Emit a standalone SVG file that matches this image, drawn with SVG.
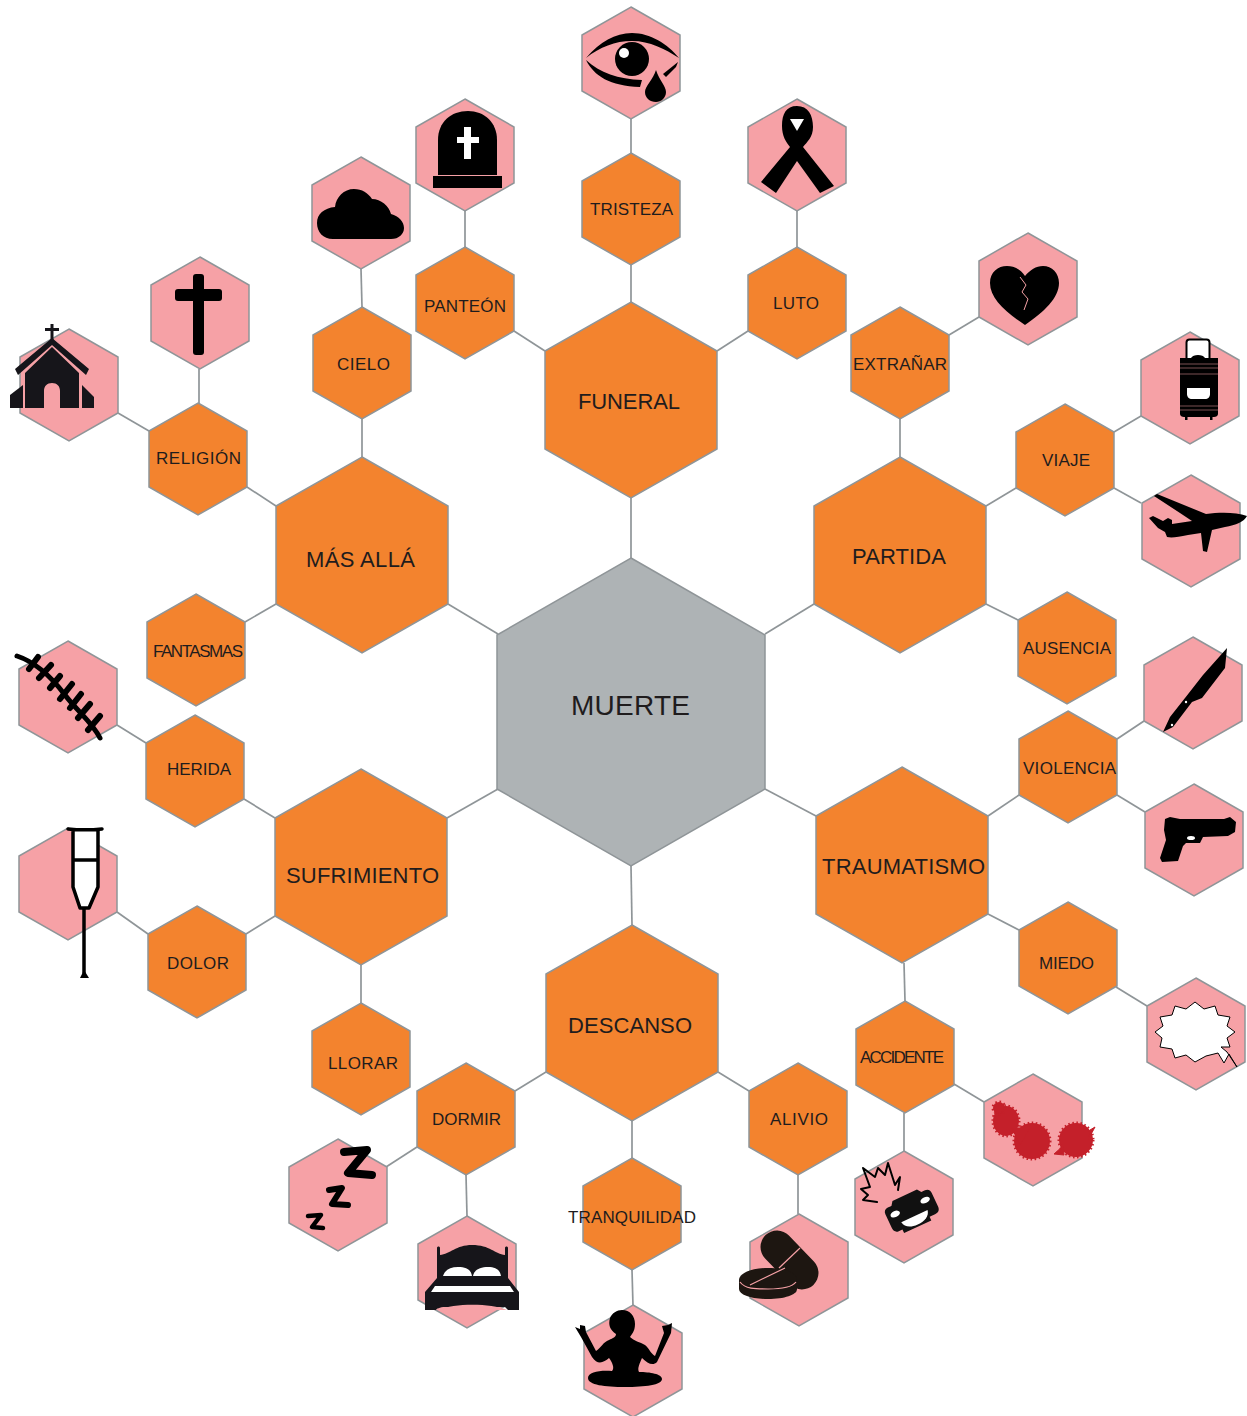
<svg xmlns="http://www.w3.org/2000/svg" width="1247" height="1416" viewBox="0 0 1247 1416">
<style>
.hex{stroke:#8f9598;stroke-width:1.5}
.o{fill:#f3832e}.p{fill:#f6a1a6}.g{fill:#aeb3b5}
text{font-family:"Liberation Sans",Arial,sans-serif;fill:#1f1c1d}
.s{font-size:17px}.m{font-size:22px}.l{font-size:28px}
#connectors line{stroke:#8f9598;stroke-width:1.7}
.k{fill:#000}.w{fill:#fff}.ln{fill:none;stroke:#000;stroke-linecap:round;stroke-linejoin:round}
</style>
<defs>
<polygon id="hs" class="hex" points="0,-56 49,-28 49,28 0,56 -49,28 -49,-28"/>
<polygon id="hm" class="hex" points="0,-98 86,-49 86,49 0,98 -86,49 -86,-49"/>
<polygon id="hl" class="hex" points="0,-154 134,-77 134,77 0,154 -134,77 -134,-77"/>
</defs>
<rect width="1247" height="1416" fill="#fff"/>
<g id="connectors">
<line x1="631" y1="498" x2="631" y2="558"/><line x1="765" y1="634" x2="814" y2="604"/><line x1="765" y1="789" x2="816" y2="816"/><line x1="631" y1="866" x2="632" y2="925"/><line x1="498" y1="789" x2="447" y2="818"/><line x1="498" y1="634" x2="448" y2="604"/>
<line x1="631" y1="265" x2="631" y2="302"/><line x1="717" y1="351" x2="748" y2="331"/><line x1="545" y1="351" x2="514" y2="331"/>
<line x1="900" y1="457" x2="900" y2="419"/><line x1="986" y1="506" x2="1016" y2="488"/><line x1="986" y1="604" x2="1018" y2="620"/>
<line x1="988" y1="816" x2="1019" y2="795"/><line x1="988" y1="914" x2="1019" y2="930"/><line x1="904" y1="963" x2="905" y2="1001"/>
<line x1="546" y1="1072" x2="515" y2="1091"/><line x1="718" y1="1072" x2="749" y2="1091"/><line x1="632" y1="1121" x2="632" y2="1158"/>
<line x1="275" y1="818" x2="244" y2="799"/><line x1="275" y1="916" x2="246" y2="934"/><line x1="361" y1="965" x2="361" y2="1003"/>
<line x1="276" y1="506" x2="247" y2="487"/><line x1="276" y1="604" x2="245" y2="622"/><line x1="362" y1="457" x2="362" y2="419"/>
<line x1="631" y1="153" x2="631" y2="119"/><line x1="797" y1="247" x2="797" y2="211"/><line x1="465" y1="247" x2="465" y2="211"/><line x1="362" y1="307" x2="361" y2="269"/>
<line x1="199" y1="403" x2="199" y2="369"/><line x1="149" y1="431" x2="118" y2="413"/><line x1="949" y1="335" x2="979" y2="317"/>
<line x1="1114" y1="432" x2="1141" y2="416"/><line x1="1114" y1="488" x2="1141" y2="503"/><line x1="1117" y1="739" x2="1144" y2="721"/><line x1="1117" y1="795" x2="1145" y2="812"/>
<line x1="1116" y1="987" x2="1147" y2="1006"/><line x1="954" y1="1084" x2="984" y2="1102"/><line x1="904" y1="1113" x2="904" y2="1151"/><line x1="798" y1="1175" x2="798" y2="1214"/>
<line x1="632" y1="1270" x2="633" y2="1306"/><line x1="466" y1="1175" x2="467" y2="1216"/><line x1="417" y1="1147" x2="386" y2="1167"/><line x1="148" y1="934" x2="117" y2="912"/><line x1="146" y1="743" x2="117" y2="725"/>
</g>
<g id="muerte"><use href="#hl" class="g" x="631" y="712"/><text class="l" x="571" y="715" textLength="119">MUERTE</text></g>
<g id="funeral"><use href="#hm" class="o" x="631" y="400"/><text class="m" x="578" y="409" textLength="102">FUNERAL</text></g>
<g id="partida"><use href="#hm" class="o" x="900" y="555"/><text class="m" x="852" y="564" textLength="94">PARTIDA</text></g>
<g id="traumatismo"><use href="#hm" class="o" x="902" y="865"/><text class="m" x="822" y="874" textLength="163">TRAUMATISMO</text></g>
<g id="descanso"><use href="#hm" class="o" x="632" y="1023"/><text class="m" x="568" y="1033" textLength="124">DESCANSO</text></g>
<g id="sufrimiento"><use href="#hm" class="o" x="361" y="867"/><text class="m" x="286" y="883" textLength="153">SUFRIMIENTO</text></g>
<g id="mas-alla"><use href="#hm" class="o" x="362" y="555"/><text class="m" x="306" y="567" textLength="109">MÁS ALLÁ</text></g>

<g id="tristeza"><use href="#hs" class="o" x="631" y="209"/><text class="s" x="590" y="215" textLength="83">TRISTEZA</text></g>
<g id="luto"><use href="#hs" class="o" x="797" y="303"/><text class="s" x="773" y="309" textLength="46">LUTO</text></g>
<g id="panteon"><use href="#hs" class="o" x="465" y="303"/><text class="s" x="424" y="312" textLength="82">PANTEÓN</text></g>
<g id="cielo"><use href="#hs" class="o" x="362" y="363"/><text class="s" x="337" y="370" textLength="53">CIELO</text></g>
<g id="religion"><use href="#hs" class="o" x="198" y="459"/><text class="s" x="156" y="464" textLength="85">RELIGIÓN</text></g>
<g id="fantasmas"><use href="#hs" class="o" x="196" y="650"/><text class="s" x="153" y="657" textLength="90">FANTASMAS</text></g>
<g id="herida"><use href="#hs" class="o" x="195" y="771"/><text class="s" x="167" y="775" textLength="64">HERIDA</text></g>
<g id="dolor"><use href="#hs" class="o" x="197" y="962"/><text class="s" x="167" y="969" textLength="62">DOLOR</text></g>
<g id="llorar"><use href="#hs" class="o" x="361" y="1059"/><text class="s" x="328" y="1069" textLength="70">LLORAR</text></g>
<g id="dormir"><use href="#hs" class="o" x="466" y="1119"/><text class="s" x="432" y="1125" textLength="69">DORMIR</text></g>
<g id="tranquilidad"><use href="#hs" class="o" x="632" y="1214"/><text class="s" x="568" y="1223" textLength="128">TRANQUILIDAD</text></g>
<g id="alivio"><use href="#hs" class="o" x="798" y="1119"/><text class="s" x="770" y="1125" textLength="58">ALIVIO</text></g>
<g id="accidente"><use href="#hs" class="o" x="905" y="1057"/><text class="s" x="860" y="1063" textLength="84">ACCIDENTE</text></g>
<g id="miedo"><use href="#hs" class="o" x="1068" y="958"/><text class="s" x="1039" y="969" textLength="55">MIEDO</text></g>
<g id="violencia"><use href="#hs" class="o" x="1068" y="767"/><text class="s" x="1023" y="774" textLength="93">VIOLENCIA</text></g>
<g id="ausencia"><use href="#hs" class="o" x="1067" y="648"/><text class="s" x="1023" y="654" textLength="88">AUSENCIA</text></g>
<g id="viaje"><use href="#hs" class="o" x="1065" y="460"/><text class="s" x="1042" y="466" textLength="48">VIAJE</text></g>
<g id="extranar"><use href="#hs" class="o" x="900" y="363"/><text class="s" x="853" y="370" textLength="94">EXTRAÑAR</text></g>

<g id="icon-eye"><use href="#hs" class="p" x="631" y="63"/>
<path class="k" d="M586,58C600,42 615,33 632,33C650,33 668,44 679,58C665,49 650,41 632,41C615,41 600,47 586,58Z"/>
<path class="k" d="M586,60C600,73 618,79 642,80L640,87C610,86 594,76 586,60Z"/>
<path class="k" d="M663,74L678,62L676,67L666,77Z"/>
<circle class="k" cx="632" cy="59" r="17"/><circle class="w" cx="624" cy="53" r="5"/>
<path class="k" d="M656,70C659,80 666,86 666,92C666,98 661,102 656,102C650,102 645,98 645,92C645,86 653,80 656,70Z"/></g>
<g id="icon-ribbon"><use href="#hs" class="p" x="797" y="155"/>
<path class="k" d="M797,106C808,106 813,115 813,127C813,137 807,142 803,147L834,186L820,193L797,161L776,193L761,182L790,147C786,142 782,136 782,126C782,114 786,106 797,106Z"/>
<path class="w" d="M790,119L804,119L797,131Z"/></g>
<g id="icon-tomb"><use href="#hs" class="p" x="465" y="155"/>
<path class="k" d="M438,175V140C438,122 451,111 468,111C484,111 497,122 497,140V175Z"/>
<rect class="k" x="433" y="176" width="69" height="12"/>
<path class="w" d="M464,127H471V137H479V143H471V159H464V143H457V137H464Z"/></g>
<g id="icon-cloud"><use href="#hs" class="p" x="361" y="213"/>
<path class="k" d="M333,239C323,239 317,232 317,223C317,214 324,208 335,207C336,197 344,189 354,189C362,189 368,193 372,199C381,199 389,206 391,214C399,216 404,222 404,228C404,234 399,239 391,239Z"/></g>
<g id="icon-cross"><use href="#hs" class="p" x="200" y="313"/>
<rect class="k" x="193" y="274" width="11" height="81" rx="3"/><rect class="k" x="175" y="289" width="47" height="12" rx="3"/></g>
<g id="icon-church"><use href="#hs" class="p" x="69" y="385"/>
<g fill="#16151a"><rect x="50.500" y="324" width="3" height="16"/><rect x="45" y="328" width="14" height="3"/>
<path d="M15,369L52,338L89,369L86,375L52,345L18,375Z"/>
<path d="M25,408V373L52,347L79,373V408H60V391C60,386 57,383 52,383C47,383 44,386 44,391V408Z"/>
<path d="M10,395L23,385V408H10Z"/><path d="M82,385L94,397V408H82Z"/></g></g>
<g id="icon-heart"><use href="#hs" class="p" x="1028" y="289"/>
<path class="k" d="M1025,325C1005,312 990,298 990,283C990,272 998,266 1007,266C1015,266 1021,270 1025,276C1030,270 1036,266 1043,266C1052,266 1059,273 1059,283C1059,298 1044,312 1025,325Z"/>
<path d="M1020,277L1026,285L1022,292L1028,299L1024,310" fill="none" stroke="#f6a1a6" stroke-width="1"/></g>
<g id="icon-suitcase"><use href="#hs" class="p" x="1190" y="388"/>
<rect class="w" x="1186.500" y="339.500" width="23" height="22" rx="3" stroke="#000" stroke-width="2"/>
<path class="k" d="M1180,358H1191C1193,354 1203,354 1205,358H1218V414C1218,416 1216,417 1214,417H1184C1182,417 1180,416 1180,414Z"/>
<rect class="k" x="1185" y="416" width="2.500" height="4"/><rect class="k" x="1210" y="416" width="2.500" height="4"/>
<path d="M1180,364H1218M1180,368H1218M1180,374H1218M1180,406H1218M1180,410H1218" stroke="#f6a1a6" stroke-width="0.500"/>
<path class="w" d="M1187,388H1210V394C1210,397 1208,399 1205,399H1192C1189,399 1187,397 1187,394Z"/></g>
<g id="icon-plane"><use href="#hs" class="p" x="1191" y="531"/>
<path class="k" d="M1247,516C1244,522 1236,525 1225,527L1212,530L1207,552L1203,551L1201,533L1188,535C1178,537 1172,538 1167,537L1165,532L1158,528L1149,518L1153,516L1163,521L1168,518L1172,520L1172,524L1192,521L1180,513L1154,496L1157,494L1206,514C1220,512 1236,512 1247,516Z"/></g>
<g id="icon-knife"><use href="#hs" class="p" x="1193" y="693"/>
<path class="k" d="M1227,648L1225,668L1202,698L1192,702L1173,727L1163,732L1170,717L1185,698L1203,675Z"/>
<circle class="w" cx="1186" cy="702" r="1.200"/><circle class="w" cx="1172" cy="725" r="1.200"/></g>
<g id="icon-gun"><use href="#hs" class="p" x="1194" y="840"/>
<path class="k" d="M1165,819L1170,817L1180,819L1224,819L1230,817L1236,822L1235,832L1228,836L1203,837L1200,843L1186,843L1183,846L1178,861L1162,862L1160,858L1166,840L1164,830Z"/>
<ellipse class="w" cx="1191" cy="838" rx="4" ry="2"/></g>
<g id="icon-bubble"><use href="#hs" class="p" x="1196" y="1034"/>
<polygon class="w" stroke="#000" stroke-width="1" points="1235,1032 1227,1038 1230,1047 1221,1047 1227,1052 1237,1067 1229,1054 1224,1063 1218,1053 1206,1056 1195,1062 1186,1055 1175,1058 1172,1049 1160,1047 1162,1038 1155,1032 1163,1026 1160,1017 1172,1015 1175,1006 1186,1009 1195,1002 1204,1009 1215,1006 1218,1015 1230,1017 1227,1026"/></g>
<g id="icon-blood"><use href="#hs" class="p" x="1033" y="1130"/>
<g fill="#c4202a" stroke="#c4202a"><g stroke-width="3" stroke-dasharray="1.500 2.500"><ellipse cx="1006" cy="1121" rx="13" ry="15"/><circle cx="1032" cy="1141" r="18"/><circle cx="1076" cy="1140" r="17"/><circle cx="999" cy="1108" r="6"/></g>
<path stroke-width="1" d="M1012,1128L1030,1128L1020,1145ZM1063,1146L1054,1154L1064,1155ZM1090,1130L1095,1127L1088,1140Z"/></g></g>
<g id="icon-car"><use href="#hs" class="p" x="904" y="1207"/>
<polyline class="ln" stroke-width="2" points="877,1202 863,1200 868,1195 861,1189 870,1187 863,1168 875,1177 878,1168 885,1175 888,1163 895,1185 900,1177 898,1190"/>
<g transform="rotate(-25 911 1210)"><path fill="#111" d="M886,1203C886,1200 888,1198 891,1198H895L898,1194H925L928,1198H932C935,1198 937,1200 937,1203V1218C937,1222 935,1224 931,1224H925V1228H895V1224H891C888,1224 886,1222 886,1218Z"/>
<ellipse class="w" cx="895" cy="1207" rx="5" ry="3"/><ellipse class="w" cx="928" cy="1207" rx="5" ry="3"/>
<path class="w" d="M897,1217H926C925,1223 919,1226 911,1226C903,1226 898,1223 897,1217Z"/></g></g>
<g id="icon-pills"><use href="#hs" class="p" x="799" y="1270"/>
<path stroke="#1d1611" stroke-width="33" stroke-linecap="round" d="M777,1247L802,1273"/>
<path d="M779,1268L800,1248" stroke="#f6a1a6" stroke-width="1.200"/>
<path fill="#1d1611" d="M739,1280C739,1273 752,1268 768,1268C784,1268 797,1272 797,1280V1289C797,1295 784,1299 768,1299C752,1299 739,1295 739,1289Z"/>
<path d="M740,1282C745,1289 755,1289 768,1289C782,1289 792,1287 796,1282M750,1285L785,1268" fill="none" stroke="#f6a1a6" stroke-width="1.200"/></g>
<g id="icon-meditate"><use href="#hs" class="p" x="633" y="1361"/>
<path class="k" d="M622,1310C630,1310 635,1316 635,1324C635,1332 631,1335 630,1337C634,1341 640,1342 645,1345C649,1348 651,1354 655,1356L664,1333L662,1326L668,1325L672,1323L671,1333L657,1362C653,1366 648,1364 642,1358C640,1363 637,1368 639,1372C650,1372 662,1374 662,1379C662,1385 645,1387 625,1387C605,1387 588,1385 588,1378C588,1372 600,1370 612,1371C615,1368 612,1362 609,1358C604,1362 598,1366 592,1357L581,1337L575,1327L580,1329L580,1325L585,1326L586,1332L596,1351C601,1348 603,1342 609,1340C613,1338 616,1337 616,1334C610,1330 608,1325 610,1318C612,1313 617,1310 622,1310Z"/></g>
<g id="icon-bed"><use href="#hs" class="p" x="467" y="1272"/>
<path fill="#16151a" d="M437,1248C437,1246 440,1246 440,1248V1255C450,1254 456,1245 472,1245C490,1245 495,1254 505,1255V1248C505,1246 508,1246 508,1248V1278L519,1292V1310H508L505,1307H445C440,1307 436,1309 436,1310H425V1292L437,1278Z"/>
<path class="w" d="M443,1276C445,1270 450,1267 458,1267C467,1267 471,1270 472,1276ZM473,1276C474,1270 480,1267 488,1267C496,1267 500,1270 501,1276Z"/>
<path class="w" d="M431,1292L435,1286H510L514,1292Z"/>
<path class="p" d="M438,1310C455,1303 490,1303 507,1310Z"/></g>
<g id="icon-zzz"><use href="#hs" class="p" x="338" y="1195"/>
<polyline class="ln" stroke="#111" stroke-width="8" points="344,1152 367,1150 348,1173 372,1175"/>
<polyline class="ln" stroke-width="6" points="329,1190 342,1188 332,1204 348,1205"/>
<polyline class="ln" stroke-width="4.500" points="308,1216 321,1215 312,1227 323,1228"/></g>
<g id="icon-crutch"><use href="#hs" class="p" x="68" y="884"/>
<path class="w" d="M73,829H98V887L89,908H80L73,887Z"/>
<path class="ln" stroke-width="3.500" d="M68,829C78,830 92,830 102,829M73,830V887L80,908H89L98,887V830M73,860H98M84,908V973"/>
<path class="k" d="M84,970L89,978H80Z"/></g>
<g id="icon-stitches"><use href="#hs" class="p" x="68" y="697"/>
<path class="ln" stroke-width="5" d="M17,656C35,662 50,675 65,695C78,712 92,722 100,738"/>
<path class="ln" stroke-width="6" d="M38,657L29,669M51,665L39,678M60,676L50,688M72,684L60,699M81,694L70,708M90,704L78,718M100,716L88,730"/></g>
</svg>
